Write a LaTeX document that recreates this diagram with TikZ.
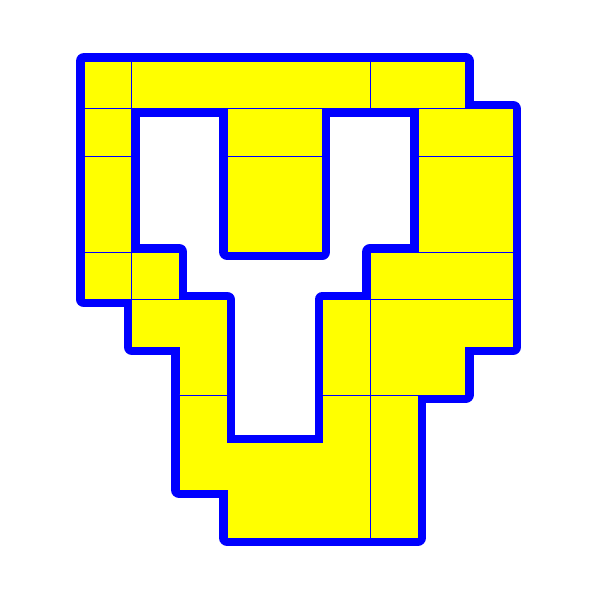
\documentclass[tikz,border=0pt]{standalone}
\definecolor{lemon}{RGB}{255,255,0}
\definecolor{pureblue}{RGB}{0,0,255}
\begin{document}
\begin{tikzpicture}[
  x=1cm, y=-1cm,
  rim/.style={draw=pureblue, line width=0.335cm, line join=round},
  piece/.style={fill=lemon, draw=pureblue, line width=0.25pt}
]
\useasboundingbox (-1.761,-1.279) rectangle (10.818,11.30);

%% thick outline: outer edge, then the hole
\draw[rim] (0,0) -- (8,0) -- (8,1) -- (9,1) -- (9,6) -- (8,6) -- (8,7) -- (7,7) -- (7,10)
  -- (3,10) -- (3,9) -- (2,9) -- (2,6) -- (1,6) -- (1,5) -- (0,5) -- cycle;
\draw[rim] (1,1) -- (1,4) -- (2,4) -- (2,5) -- (3,5) -- (3,8) -- (5,8) -- (5,5) -- (6,5)
  -- (6,4) -- (7,4) -- (7,1) -- (5,1) -- (5,4) -- (3,4) -- (3,1) -- cycle;

%% left column
\draw[piece] (0,0) rectangle (1,1);
\draw[piece] (0,1) rectangle (1,2);
\draw[piece] (0,2) rectangle (1,4);
\draw[piece] (0,4) rectangle (1,5);
\draw[piece] (1,4) rectangle (2,5);

%% top row and pillar
\draw[piece] (1,0) rectangle (6,1);
\draw[piece] (6,0) rectangle (8,1);
\draw[piece] (3,1) rectangle (5,2);
\draw[piece] (3,2) rectangle (5,4);

%% right column
\draw[piece] (7,1) rectangle (9,2);
\draw[piece] (7,2) rectangle (9,4);
\draw[piece] (6,4) rectangle (9,5);
\draw[piece] (6,5) -- (9,5) -- (9,6) -- (8,6) -- (8,7) -- (6,7) -- cycle;
\draw[piece] (5,5) rectangle (6,7);

%% stem and foot
\draw[piece] (1,5) -- (3,5) -- (3,7) -- (2,7) -- (2,6) -- (1,6) -- cycle;
\draw[piece] (2,7) -- (3,7) -- (3,8) -- (5,8) -- (5,7) -- (6,7) -- (6,10) -- (3,10) -- (3,9) -- (2,9) -- cycle;
\draw[piece] (6,7) rectangle (7,10);
\end{tikzpicture}
\end{document}
